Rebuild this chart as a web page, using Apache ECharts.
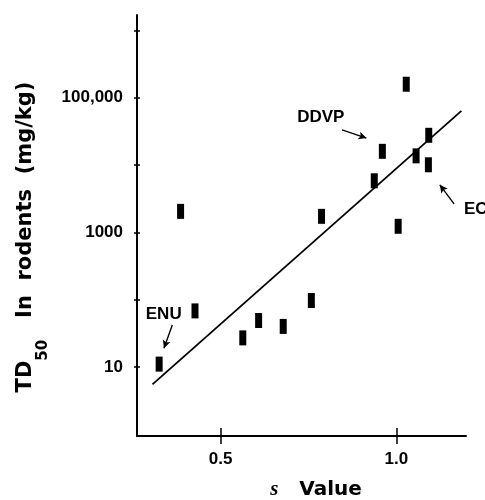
<!DOCTYPE html>
<html>
<head>
<meta charset="utf-8">
<script src="https://cdn.jsdelivr.net/npm/echarts@6/dist/echarts.min.js"></script>
<style>
  html, body { margin: 0; padding: 0; background: #fff; }
  #chart { width: 485px; height: 500px; }
</style>
</head>
<body>
<div id="chart"></div>
<script>
// s value of each compound and its TD50 in rodents (mg/kg)
const sValues = [0.325, 0.386, 0.427, 0.563, 0.608, 0.678, 0.758, 0.787, 0.937, 0.960, 1.005, 1.028, 1.056, 1.091, 1.092];
const td50 = [11, 2050, 68, 27, 49, 40, 97, 1730, 5840, 16000, 1230, 159000, 13700, 10100, 27700];

// end points of the regression line
const fitS = [0.306, 1.185];
const fitTD = [5.5, 64000];

// axis ticks and labels
const xTicks = [0.5, 1.0];
const yTicks = [10, 100, 1000, 10000, 100000, 1000000];
const yLabels = [10, 1000, 100000];

// named compounds: label anchor, arrow tail and arrow head
const noteNames = ['ENU', 'DDVP', 'EC'];
const noteS = [0.338, 0.785, 1.192];
const noteTD = [61, 50500, 2200];
const arrowFromS = [0.3625, 0.8453, 1.1641];
const arrowFromTD = [42, 33400, 2655];
const arrowToS = [0.3386, 0.9147, 1.1234];
const arrowToTD = [19, 25200, 5080];

const INK = '#000';
const NUM_FONT = 'Liberation Sans';
const TITLE_FONT = 'DejaVu Sans';

const X_MIN = 0.262, X_MAX = 1.198;
const Y_MIN = 0.94, Y_MAX = 1.7e6;

const chart = echarts.init(document.getElementById('chart'), null, { renderer: 'canvas' });

const xBase = {
  type: 'value', gridIndex: 0, position: 'bottom', min: X_MIN, max: X_MAX,
  splitLine: { show: false }
};
const yBase = {
  type: 'log', logBase: 10, gridIndex: 0, position: 'left', min: Y_MIN, max: Y_MAX,
  splitLine: { show: false }
};

// 10 and 1000 are printed plain, larger values with thousands separators
const yLabelText = v => {
  const n = Math.round(v);
  return n >= 10000 ? n.toLocaleString('en-US') : String(n);
};

const option = {
  animation: false,
  backgroundColor: '#fff',
  grid: { left: 137, right: 19, top: 15, bottom: 64, outerBoundsMode: 'none', containLabel: false },
  xAxis: [
    Object.assign({}, xBase, {
      axisLine: { show: true, onZero: false, lineStyle: { color: INK, width: 2 } },
      axisTick: { show: true, customValues: xTicks, length: 8, lineStyle: { color: INK, width: 1.5 } },
      axisLabel: {
        customValues: xTicks, formatter: v => v.toFixed(1), margin: 15,
        color: INK, fontFamily: NUM_FONT, fontWeight: 'bold', fontSize: 17
      }
    }),
    Object.assign({}, xBase, {
      axisLine: { show: false },
      axisTick: { show: true, inside: true, customValues: xTicks, length: 8, lineStyle: { color: INK, width: 1.5 } },
      axisLabel: { show: false }
    })
  ],
  yAxis: [
    Object.assign({}, yBase, {
      axisLine: { show: true, onZero: false, lineStyle: { color: INK, width: 2 } },
      axisTick: { show: true, customValues: yTicks, length: 3, lineStyle: { color: INK, width: 1.5 } },
      axisLabel: {
        customValues: yLabels, formatter: yLabelText, margin: 14,
        color: INK, fontFamily: NUM_FONT, fontWeight: 'bold', fontSize: 17
      }
    }),
    Object.assign({}, yBase, {
      axisLine: { show: false },
      axisTick: { show: true, inside: true, customValues: yTicks, length: 3, lineStyle: { color: INK, width: 1.5 } },
      axisLabel: { show: false }
    })
  ],
  series: [
    {
      type: 'line',
      xAxisIndex: 0, yAxisIndex: 0,
      data: fitS.map((s, i) => [s, fitTD[i]]),
      showSymbol: false, symbol: 'none',
      lineStyle: { color: INK, width: 1.8, opacity: 1 },
      silent: true, z: 2
    },
    {
      type: 'scatter',
      xAxisIndex: 0, yAxisIndex: 0,
      data: sValues.map((s, i) => [s, td50[i]]),
      symbol: 'rect', symbolSize: [7, 15],
      itemStyle: { color: INK, opacity: 1 },
      silent: true, z: 3
    },
    {
      type: 'scatter',
      xAxisIndex: 0, yAxisIndex: 0,
      symbolSize: 0,
      itemStyle: { color: INK, opacity: 1 },
      silent: true, z: 4,
      data: noteNames.map((name, i) => ({
        name: name,
        value: [noteS[i], noteTD[i]],
        label: {
          show: true, position: 'inside', formatter: '{b}',
          align: name === 'EC' ? 'left' : 'center', verticalAlign: 'middle',
          color: INK, opacity: 1, fontFamily: NUM_FONT, fontWeight: 'bold', fontSize: 17
        }
      })),
      markLine: {
        silent: true,
        symbol: ['none', 'arrow'],
        symbolSize: [6, 8],
        label: { show: false },
        itemStyle: { color: INK, opacity: 1 },
        lineStyle: { color: INK, width: 1.4, type: 'solid', opacity: 1 },
        data: noteNames.map((name, i) => [
          { coord: [arrowFromS[i], arrowFromTD[i]] },
          { coord: [arrowToS[i], arrowToTD[i]] }
        ])
      }
    }
  ],
  graphic: [
    {
      type: 'text',
      x: 26, y: 237,
      rotation: Math.PI / 2,
      style: {
        text: '{b|TD}{s|50}{b|   In  rodents  (mg/kg)}',
        align: 'center', verticalAlign: 'middle',
        rich: {
          b: { fontFamily: TITLE_FONT, fontWeight: 'bold', fontSize: 21, fill: INK, lineHeight: 50 },
          s: { fontFamily: TITLE_FONT, fontWeight: 'bold', fontSize: 15, fill: INK, verticalAlign: 'bottom' }
        }
      }
    },
    {
      type: 'text',
      x: 316, y: 490,
      style: {
        text: '{i|s}{b|   Value}',
        align: 'center', verticalAlign: 'middle',
        rich: {
          i: { fontFamily: 'Liberation Serif', fontStyle: 'italic', fontWeight: 'bold', fontSize: 21, fill: INK },
          b: { fontFamily: TITLE_FONT, fontWeight: 'bold', fontSize: 20, fill: INK }
        }
      }
    }
  ]
};

chart.setOption(option);
</script>
</body>
</html>
